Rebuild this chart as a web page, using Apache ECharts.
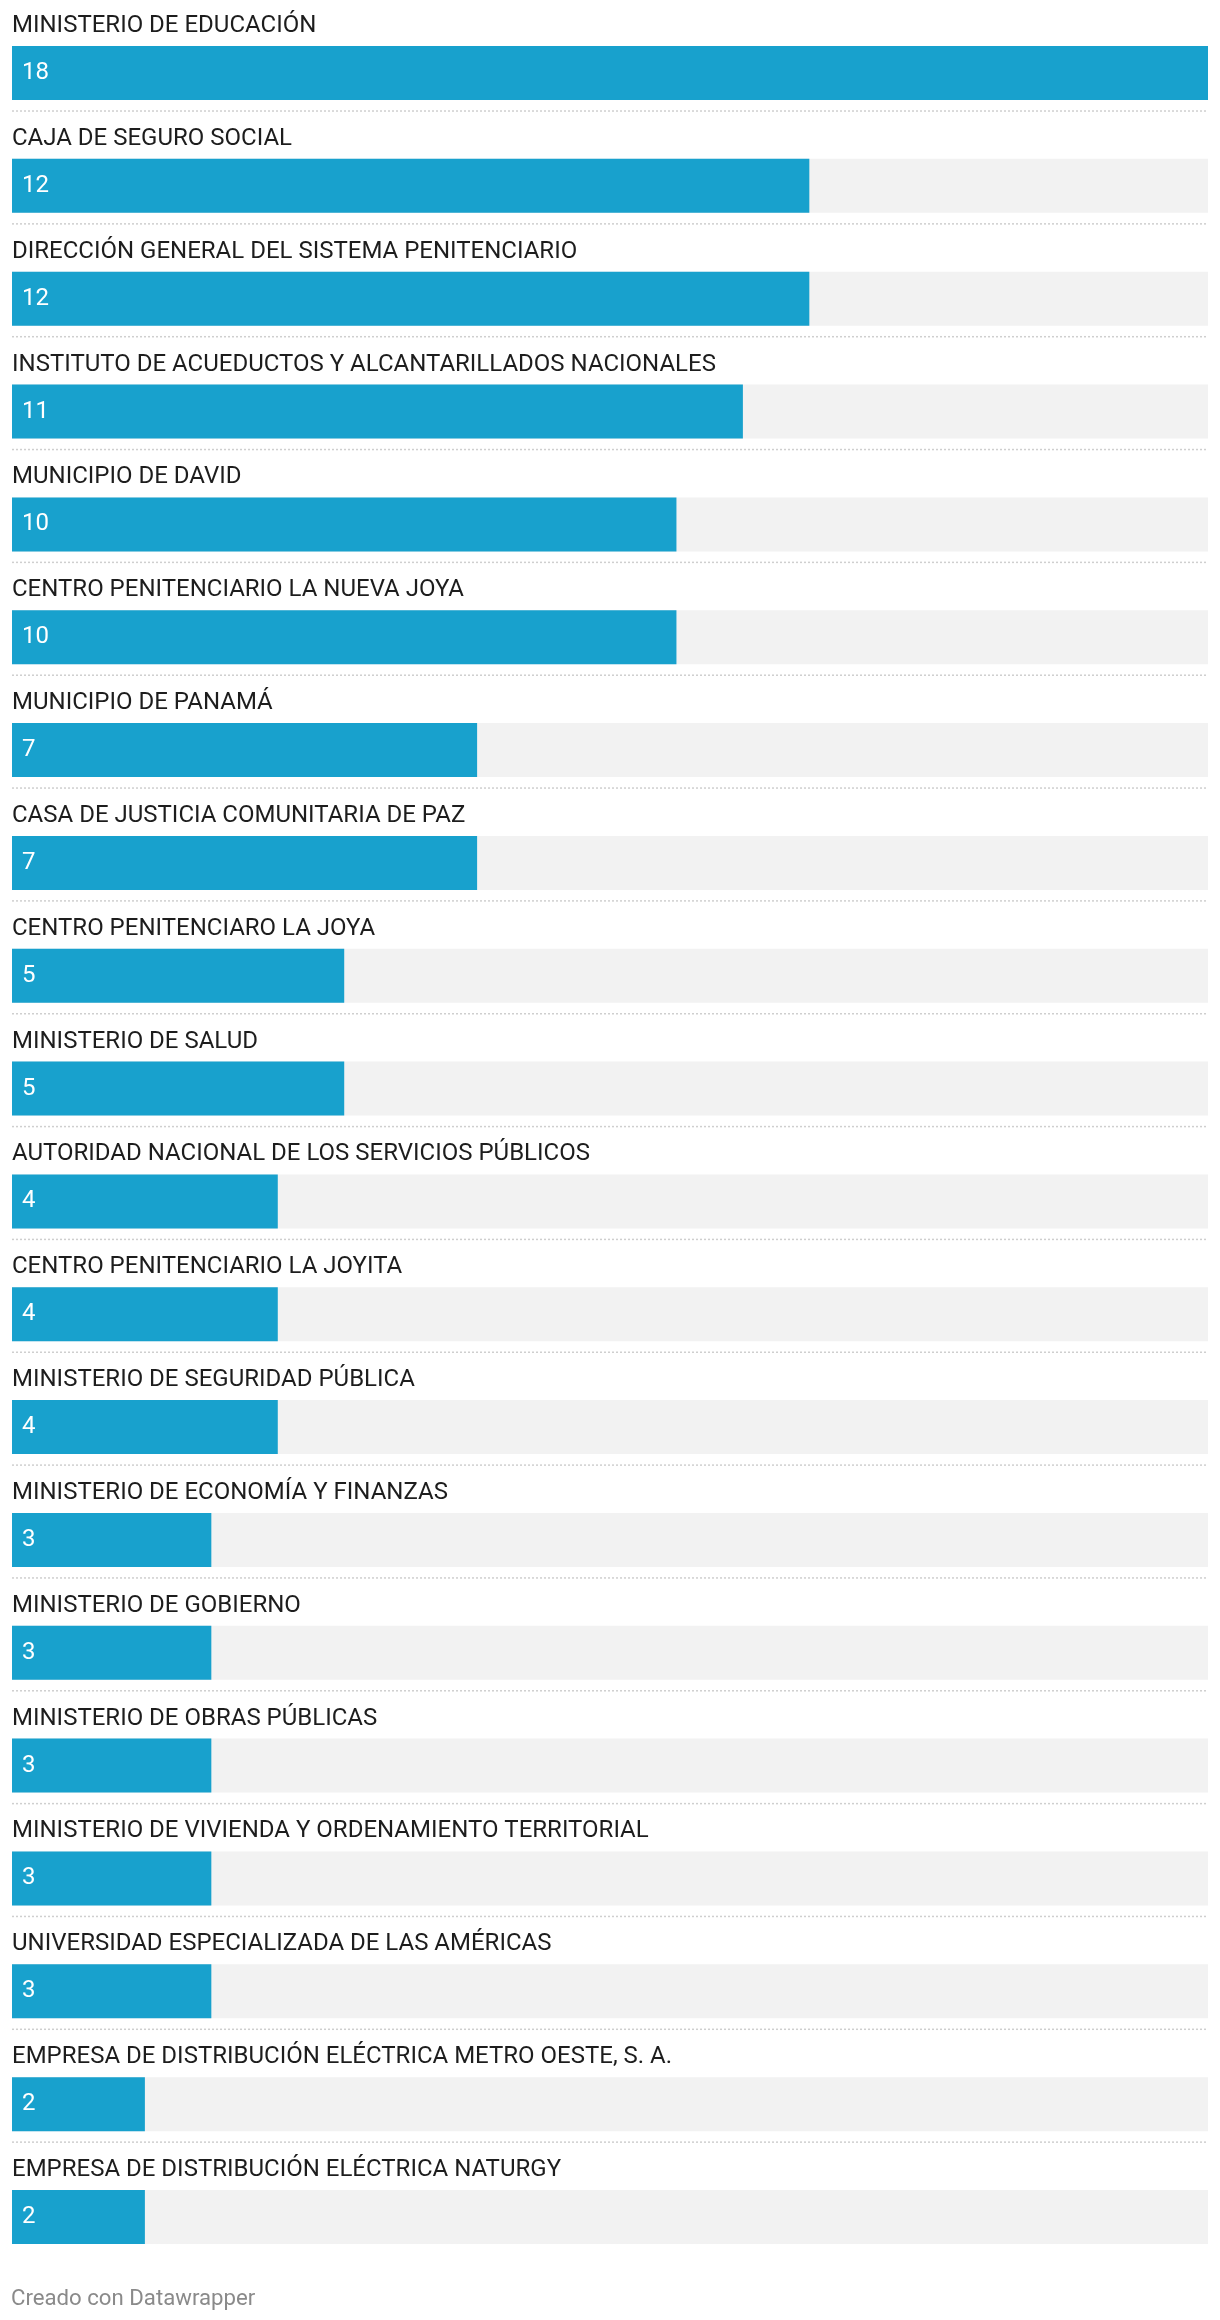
<!DOCTYPE html>
<html>
<head>
<meta charset="utf-8">
<script src="https://cdn.jsdelivr.net/npm/echarts@6/dist/echarts.min.js"></script>
<style>
  html, body { margin: 0; padding: 0; background: #fff; }
  #chart { width: 1220px; height: 2320px; }
</style>
</head>
<body>
<div id="chart"></div>
<script>
// datos del gráfico
const categories = [
  'MINISTERIO DE EDUCACIÓN',
  'CAJA DE SEGURO SOCIAL',
  'DIRECCIÓN GENERAL DEL SISTEMA PENITENCIARIO',
  'INSTITUTO DE ACUEDUCTOS Y ALCANTARILLADOS NACIONALES',
  'MUNICIPIO DE DAVID',
  'CENTRO PENITENCIARIO LA NUEVA JOYA',
  'MUNICIPIO DE PANAMÁ',
  'CASA DE JUSTICIA COMUNITARIA DE PAZ',
  'CENTRO PENITENCIARO LA JOYA',
  'MINISTERIO DE SALUD',
  'AUTORIDAD NACIONAL DE LOS SERVICIOS PÚBLICOS',
  'CENTRO PENITENCIARIO LA JOYITA',
  'MINISTERIO DE SEGURIDAD PÚBLICA',
  'MINISTERIO DE ECONOMÍA Y FINANZAS',
  'MINISTERIO DE GOBIERNO',
  'MINISTERIO DE OBRAS PÚBLICAS',
  'MINISTERIO DE VIVIENDA Y ORDENAMIENTO TERRITORIAL',
  'UNIVERSIDAD ESPECIALIZADA DE LAS AMÉRICAS',
  'EMPRESA DE DISTRIBUCIÓN ELÉCTRICA METRO OESTE, S. A.',
  'EMPRESA DE DISTRIBUCIÓN ELÉCTRICA NATURGY'
]
const values = [18, 12, 12, 11, 10, 10, 7, 7, 5, 5, 4, 4, 4, 3, 3, 3, 3, 3, 2, 2]
const xMax = 18

const chart = echarts.init(document.getElementById('chart'))

// separadores punteados entre filas (no después de la última)
const separatorData = categories.slice(0, -1).map((c, i) => [0, i])

const option = {
  animation: false,
  textStyle: { fontFamily: 'Roboto' },
  title: {
    text: 'Creado con Datawrapper',
    left: 6,
    top: 2283,
    textStyle: { color: '#8a8a8a', fontSize: 22.2, fontWeight: 'normal', fontFamily: 'Roboto' }
  },
  grid: {
    left: 12,
    right: 12,
    top: 16.6,
    height: 2256.8
  },
  xAxis: {
    type: 'value',
    min: 0,
    max: xMax,
    show: false
  },
  yAxis: {
    type: 'category',
    inverse: true,
    data: categories,
    axisLine: { show: false },
    axisTick: { show: false },
    splitLine: { show: false },
    axisLabel: {
      inside: true,
      margin: 0,
      align: 'left',
      verticalAlign: 'bottom',
      lineHeight: 24,
      padding: [0, 0, 35, 0],
      color: '#1d1d1d',
      fontSize: 24,
      fontFamily: 'Roboto'
    }
  },
  series: [
    {
      type: 'bar',
      data: values,
      barWidth: 54,
      itemStyle: { color: '#18a1cd' },
      showBackground: true,
      backgroundStyle: { color: '#f2f2f2' },
      label: {
        show: true,
        position: 'insideLeft',
        distance: 10,
        color: '#fff',
        fontSize: 24,
        fontFamily: 'Roboto'
      }
    },
    {
      type: 'custom',
      data: separatorData,
      silent: true,
      z: 1,
      renderItem: function (params, api) {
        const start = api.coord([0, api.value(1)])
        const end = api.coord([xMax, api.value(1)])
        const y = start[1] + 38
        return {
          type: 'line',
          shape: { x1: start[0], y1: y, x2: end[0], y2: y },
          style: { stroke: '#cfcfcf', lineWidth: 1.5, lineDash: [2, 2] }
        }
      }
    }
  ]
}

chart.setOption(option)
</script>
</body>
</html>
